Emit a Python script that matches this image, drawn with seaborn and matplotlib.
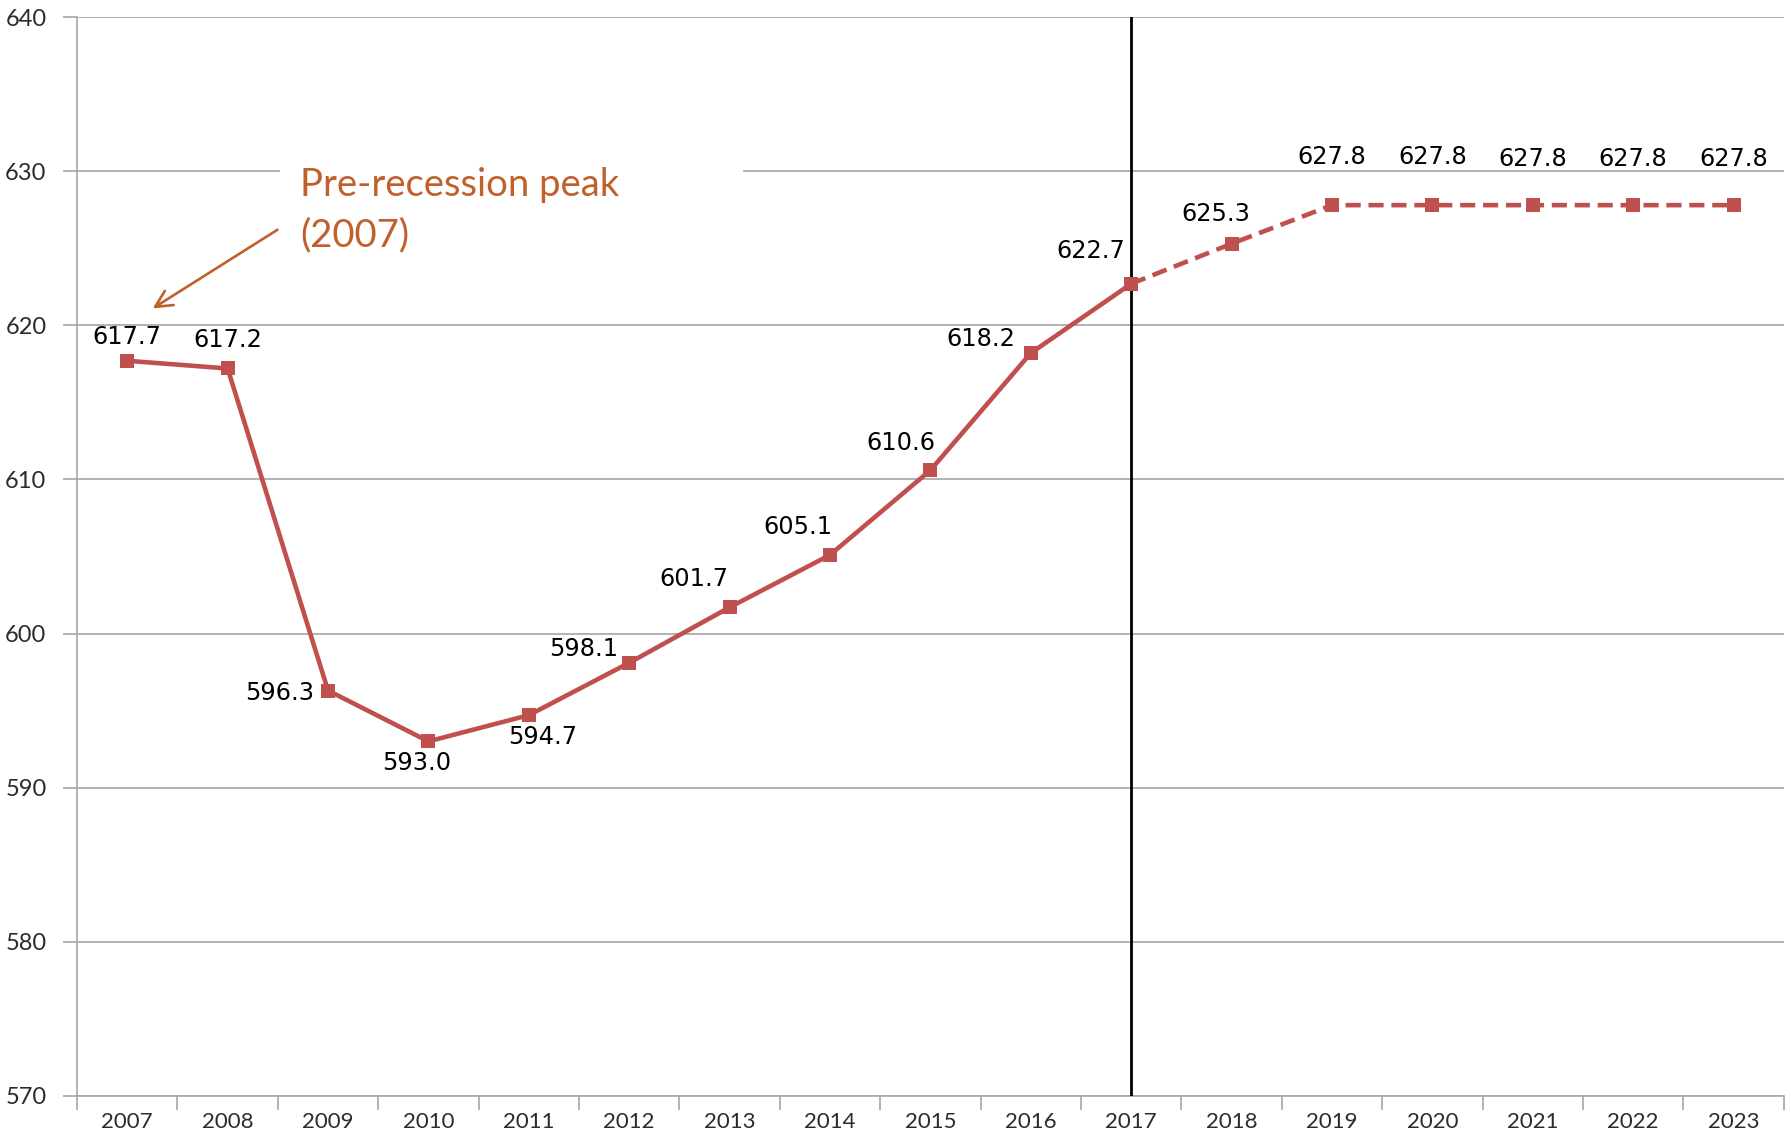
import matplotlib
matplotlib.use("Agg")
import matplotlib.pyplot as plt
import seaborn as sns
import pandas as pd
from matplotlib.patches import Rectangle

years = ["2007", "2008", "2009", "2010", "2011", "2012", "2013", "2014", "2015",
         "2016", "2017", "2018", "2019", "2020", "2021", "2022", "2023"]
values = [617.7, 617.2, 596.3, 593.0, 594.7, 598.1, 601.7, 605.1, 610.6,
          618.2, 622.7, 625.3, 627.8, 627.8, 627.8, 627.8, 627.8]
actual_last = "2017"          # last actual year; after it the series is a projection
y_ticks = [570, 580, 590, 600, 610, 620, 630, 640]
annotation_text = "Pre-recession peak\n(2007)"

# label offsets in pixels (layout only)
label_offsets = [(0, 24), (0, 28), (-14, -2), (-12, -22), (14, -22), (-46, 14),
                 (-36, 28), (-32, 28), (-30, 27), (-50, 14), (-40, 33), (-16, 30),
                 (0, 48), (0, 48), (0, 46), (0, 46), (0, 46)]
label_ha = ["center", "center", "right", "center", "center", "center", "center",
            "center", "center", "center", "center", "center", "center", "center",
            "center", "center", "center"]

sns.set_theme(style="white")
plt.rcParams["font.family"] = ["Lato", "DejaVu Sans"]

df = pd.DataFrame({"year": years, "value": values})
df["pos"] = range(len(df))
split = years.index(actual_last)
actual = df.iloc[: split + 1]
proj = df.iloc[split:]

LINE = "#C0504D"
fig = plt.figure(figsize=(17.91, 11.45), dpi=100)
ax = fig.add_axes([0.043, 0.043, 0.953, 0.942])

sns.lineplot(data=actual, x="pos", y="value", ax=ax, color=LINE, lw=3.3,
             marker="s", markersize=10, markeredgewidth=0, zorder=5)
sns.lineplot(data=proj, x="pos", y="value", ax=ax, color=LINE, lw=3.3,
             marker="s", markersize=10, markeredgewidth=0, zorder=5,
             linestyle=(0, (3.3, 1.7)))

ax.set_xlim(-0.5, len(years) - 0.5)
ax.set_ylim(y_ticks[0], y_ticks[-1])
ax.set_yticks(y_ticks)
ax.set_yticklabels([str(t) for t in y_ticks])
ax.yaxis.grid(True, color="#A6A6A6", lw=1.2, zorder=0)
ax.xaxis.grid(False)

# x ticks: marks at category boundaries, labels at centers
ax.set_xticks([i - 0.5 for i in range(len(years) + 1)])
ax.set_xticklabels([])
ax.set_xticks(list(range(len(years))), minor=True)
ax.set_xticklabels(years, minor=True)
ax.tick_params(axis="x", which="major", length=10, width=1.2, color="#A6A6A6", direction="out", bottom=True)
ax.tick_params(axis="x", which="minor", length=0, labelsize=16, labelcolor="#2b2b2b", pad=12)
ax.tick_params(axis="y", length=10, width=1.2, color="#A6A6A6", direction="out", left=True,
               labelsize=17, labelcolor="#2b2b2b", pad=12)
ax.set_xlabel("")
ax.set_ylabel("")
for s in ["top", "right"]:
    ax.spines[s].set_visible(False)
for s in ["left", "bottom"]:
    ax.spines[s].set_color("#A6A6A6")
    ax.spines[s].set_linewidth(1.2)

# vertical divider at last actual year
ax.axvline(split, color="black", lw=2, zorder=4)

# data labels
for (i, row), (dx, dy), ha in zip(df.iterrows(), label_offsets, label_ha):
    ax.annotate(f"{row['value']:.1f}", (row["pos"], row["value"]), xytext=(dx, dy),
                textcoords="offset pixels", ha=ha, va="center", fontsize=17.3,
                family="DejaVu Sans", color="black", zorder=6)

# white text box behind annotation (breaks the gridline)
ax.add_patch(Rectangle((0.119, 0.80), 0.271, 0.08, transform=ax.transAxes,
                       facecolor="white", edgecolor="none", zorder=1))
ANN = "#C0602B"
ax.text(1.72, 630.3, annotation_text, ha="left", va="top", fontsize=27.5,
        color=ANN, linespacing=1.5, zorder=6)
ax.annotate("", xy=(0.23, 621.0), xytext=(1.52, 626.3),
            arrowprops=dict(arrowstyle="->,head_length=1.0,head_width=0.5",
                            color=ANN, lw=1.9), zorder=6)

fig.savefig("out.png", dpi=100)
